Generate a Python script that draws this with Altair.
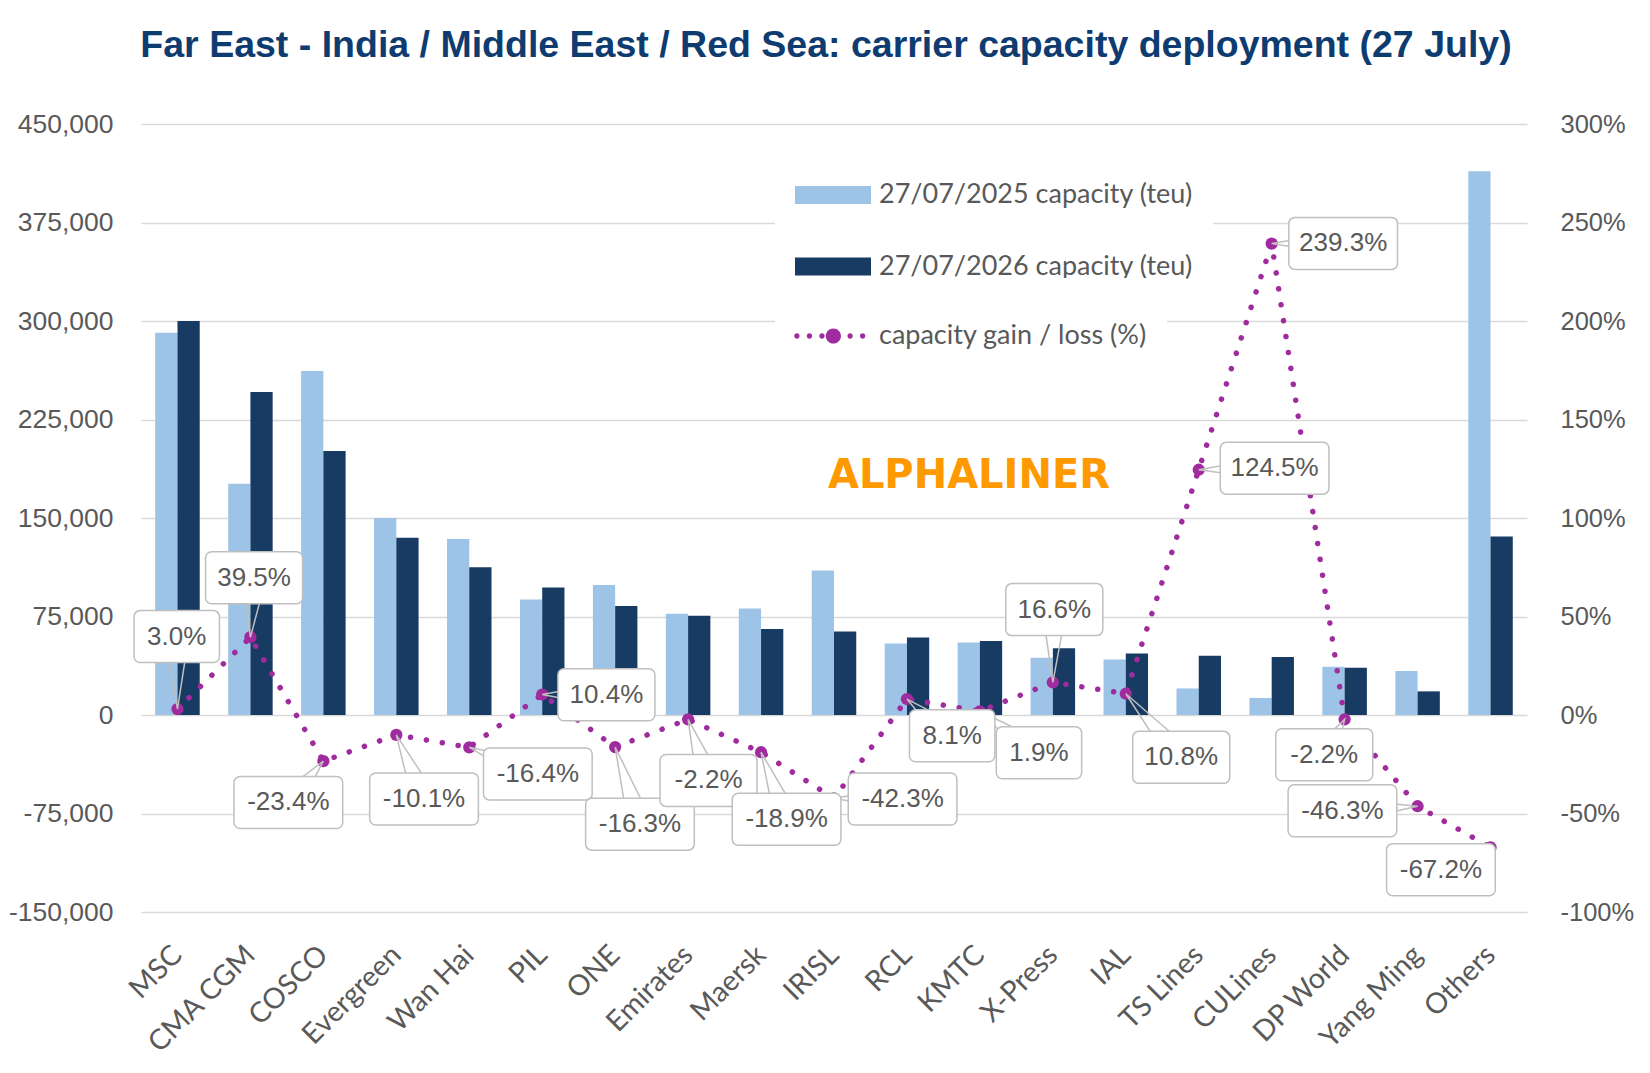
import math
import altair as alt
import pandas as pd

# ---------------- data ----------------
carriers = ["MSC", "CMA CGM", "COSCO", "Evergreen", "Wan Hai", "PIL", "ONE", "Emirates",
            "Maersk", "IRISL", "RCL", "KMTC", "X-Press", "IAL", "TS Lines", "CULines",
            "DP World", "Yang Ming", "Others"]
cap_2025 = [291000, 176000, 262000, 150000, 134000, 88000, 99000, 77000, 81000, 110000,
            54500, 55200, 43600, 42300, 20200, 13000, 36700, 33500, 414000]
cap_2026 = [300000, 246000, 201000, 135000, 112500, 97000, 83000, 75500, 65500, 63500,
            59000, 56300, 50800, 46900, 45200, 44100, 35900, 18000, 136000]
gain_pct = [3.0, 39.5, -23.4, -10.1, -16.4, 10.4, -16.3, -2.2, -18.9, -42.3,
            8.1, 1.9, 16.6, 10.8, 124.5, 239.3, -2.2, -46.3, -67.2]
gain_labels = [f"{v:.1f}%" for v in gain_pct]

S1 = "27/07/2025 capacity (teu)"
S2 = "27/07/2026 capacity (teu)"
S3 = "capacity gain / loss (%)"
title_text = "Far East - India / Middle East / Red Sea: carrier capacity deployment (27 July)"
left_ticks = [-150000, -75000, 0, 75000, 150000, 225000, 300000, 375000, 450000]
right_ticks = [-100, -50, 0, 50, 100, 150, 200, 250, 300]

# callout placement: offset of each label box centre from its point
# (in category steps horizontally, in percentage points vertically)
callout_dx = [-0.01, 0.05, -0.48, 0.38, 0.94, 0.88, 0.34, 0.28, 0.35, 0.94,
              0.62, 0.81, 0.02, 0.76, 1.04, 0.98, -0.28, -1.03, -0.68]
callout_dy = [36.8, 30.2, -21.0, -32.5, -13.5, -0.1, -39.1, -31.0, -34.0, -0.3,
              -18.6, -21.1, 36.9, -32.3, 0.8, 0.1, -18.0, -2.3, -11.3]

# ---------------- style ----------------
LIGHT = "#9DC3E6"
DARK = "#173B63"
PURPLE = "#A02B9E"
GREY_TXT = "#595959"
GRID = "#D9D9D9"
BOX_LINE = "#BFBFBF"
W, H = 1386, 788
PX = W / len(carriers)      # pixels per category step
PY = H / 400.0              # pixels per percentage point
BOX_H = 13.2                # half box height, % points
WEDGE = 12.0                # half wedge base, px

# ---------------- frames ----------------
bar_df = pd.DataFrame(
    [{"carrier": c, "series": S1, "value": v} for c, v in zip(carriers, cap_2025)] +
    [{"carrier": c, "series": S2, "value": v} for c, v in zip(carriers, cap_2026)]
)

line_df = pd.DataFrame({"idx": list(range(len(carriers))), "pct": gain_pct, "carrier": carriers})

box_rows, wedge_rows = [], []
for i, (c, p, lab, dx, dy) in enumerate(zip(carriers, gain_pct, gain_labels, callout_dx, callout_dy)):
    bx, by = i + dx, p + dy
    hw = (0.16 * len(lab) + 0.53) / 2
    box_rows.append({"carrier": c, "label": lab, "bx": bx, "by": by,
                     "x1": bx - hw, "x2": bx + hw, "y1": by - BOX_H, "y2": by + BOX_H})
    vx, vy = (i - bx) * PX, (p - by) * PY
    n = math.hypot(vx, vy) or 1.0
    nx, ny = -vy / n, vx / n
    pts = [(bx + nx * WEDGE / PX, by + ny * WEDGE / PY), (i, p),
           (bx - nx * WEDGE / PX, by - ny * WEDGE / PY)]
    for k, (wx, wy) in enumerate(pts):
        wedge_rows.append({"carrier": c, "k": k, "wx": wx, "wy": wy})
box_df = pd.DataFrame(box_rows)
wedge_df = pd.DataFrame(wedge_rows)

# ---------------- legend symbols ----------------
def circ(cx, r):
    return (f"M{cx - r:.3f},0A{r},{r} 0 1,0 {cx + r:.3f},0"
            f"A{r},{r} 0 1,0 {cx - r:.3f},0Z")

RECT_PATH = "M-1,-0.237H1V0.237H-1Z"
LINE_PATH = "".join([circ(-0.95, 0.07), circ(-0.62, 0.07), circ(-0.29, 0.07),
                     circ(0.01, 0.2), circ(0.45, 0.07), circ(0.78, 0.07)])

bar_legend = alt.Legend(
    title=None, orient="none", legendX=634, legendY=13, direction="vertical",
    fillColor="white", padding=20, rowPadding=20.5,
    labelFont="Lato", labelFontSize=27, labelColor=GREY_TXT, labelLimit=600, labelOffset=8,
    symbolType=RECT_PATH, symbolSize=5776, symbolStrokeWidth=0, symbolOpacity=1,
)
line_legend = alt.Legend(
    title=None, orient="none", legendX=634, legendY=154, direction="vertical",
    fillColor="white", padding=20,
    labelFont="Lato", labelFontSize=27, labelColor=GREY_TXT, labelLimit=600, labelOffset=8,
    symbolSize=5776, symbolStrokeWidth=0, symbolOpacity=1, symbolFillColor=PURPLE,
)

# ---------------- bars (left axis) ----------------
bars = alt.Chart(bar_df).mark_bar().encode(
    x=alt.X("carrier:N", sort=carriers,
            scale=alt.Scale(paddingInner=0.39, paddingOuter=0.195),
            axis=alt.Axis(title=None, labelAngle=315, labelAlign="right", labelBaseline="middle",
                          labelFont="Lato", labelFontSize=28.5, labelColor=GREY_TXT,
                          labelPadding=38, domain=False, ticks=False, grid=False)),
    xOffset=alt.XOffset("series:N", sort=[S1, S2], scale=alt.Scale(paddingInner=0, paddingOuter=0)),
    y=alt.Y("value:Q", scale=alt.Scale(domain=[-150000, 450000], nice=False, zero=False),
            axis=alt.Axis(title=None, values=left_ticks,
                          labelExpr="replace(format(datum.value, ',.0f'), '\u2212', '-')",
                          labelFont="Liberation Sans",
                          labelFontSize=26.5, labelColor=GREY_TXT, labelPadding=28,
                          domain=False, ticks=False, grid=True, gridColor=GRID, gridWidth=1.6)),
    color=alt.Color("series:N", scale=alt.Scale(domain=[S1, S2], range=[LIGHT, DARK]),
                    legend=bar_legend),
)

# ---------------- percentage layer (right axis) ----------------
xs = alt.Scale(domain=[-0.5, len(carriers) - 0.5], nice=False, zero=False)
ys = alt.Scale(domain=[-100, 300], nice=False, zero=False)
yaxis = alt.Axis(title=None, orient="right", values=right_ticks, labelExpr="datum.value + '%'",
                 labelFont="Liberation Sans", labelFontSize=25.5, labelColor=GREY_TXT,
                 labelPadding=33, domain=False, ticks=False, grid=False)

watermark = alt.Chart(pd.DataFrame({"t": ["ALPHALINER"]})).mark_text(
    font="DejaVu Sans", fontWeight="bold", fontSize=40, color="#FF9900",
    align="center", baseline="middle"
).encode(x=alt.value(828), y=alt.value(352), text="t:N")

legend_key = alt.Chart(pd.DataFrame({"s": [S3]})).mark_point(
    filled=True, color=PURPLE, opacity=0
).encode(x=alt.value(0), y=alt.value(0),
         shape=alt.Shape("s:N", scale=alt.Scale(domain=[S3], range=[LINE_PATH]), legend=line_legend))

line = alt.Chart(line_df).mark_line(
    color=PURPLE, strokeWidth=5.5, strokeDash=[0.1, 16], strokeCap="round"
).encode(x=alt.X("idx:Q", scale=xs, axis=None), y=alt.Y("pct:Q", scale=ys, axis=yaxis))

points = alt.Chart(line_df).mark_point(filled=True, size=150, color=PURPLE, opacity=1).encode(
    x=alt.X("idx:Q", scale=xs, axis=None), y=alt.Y("pct:Q", scale=ys, axis=yaxis))

wedges = alt.Chart(wedge_df).mark_line(color=BOX_LINE, strokeWidth=1.5).encode(
    x=alt.X("wx:Q", scale=xs, axis=None), y=alt.Y("wy:Q", scale=ys, axis=yaxis),
    detail="carrier:N", order="k:O")

boxes = alt.Chart(box_df).mark_rect(
    fill="white", stroke=BOX_LINE, strokeWidth=1.5, cornerRadius=6
).encode(x=alt.X("x1:Q", scale=xs, axis=None), x2="x2:Q",
         y=alt.Y("y1:Q", scale=ys, axis=yaxis), y2="y2:Q")

texts = alt.Chart(box_df).mark_text(
    font="Liberation Sans", fontSize=26, color=GREY_TXT, align="center", baseline="middle"
).encode(x=alt.X("bx:Q", scale=xs, axis=None), y=alt.Y("by:Q", scale=ys, axis=yaxis),
         text="label:N")

pct_layer = alt.layer(watermark, legend_key, line, points, wedges, boxes, texts)

chart = alt.layer(bars, pct_layer).resolve_scale(
    x="independent", y="independent"
).properties(
    width=W, height=H,
    padding={"top": 18, "left": 0, "right": 5, "bottom": 5},
    title=alt.TitleParams(title_text, font="Liberation Sans", fontSize=37.5, fontWeight="bold",
                          color="#0E3C70", anchor="middle", offset=47, dx=-8),
    background="white",
).configure_view(stroke=None)

chart.save("out.html", embed_options={"renderer": "svg", "actions": False})
